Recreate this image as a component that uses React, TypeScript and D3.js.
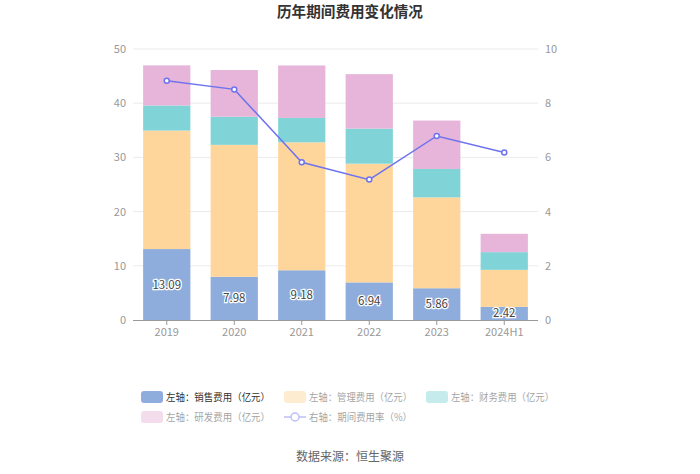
import React from "react";
import * as d3 from "d3";

const categories = ["2019", "2020", "2021", "2022", "2023", "2024H1"];
const sales = [13.09, 7.98, 9.18, 6.94, 5.86, 2.42];
const manage = [21.86, 24.33, 23.6, 21.9, 16.76, 6.83];
const finance = [4.63, 5.19, 4.5, 6.47, 5.25, 3.27];
const rd = [7.4, 8.62, 9.68, 10.05, 8.93, 3.38];
const rate = [8.83, 8.51, 5.82, 5.18, 6.79, 6.18];
const leftTicks = [0, 10, 20, 30, 40, 50];
const rightTicks = [0, 2, 4, 6, 8, 10];

const seriesNames = [
  "左轴：销售费用（亿元）",
  "左轴：管理费用（亿元）",
  "左轴：财务费用（亿元）",
  "左轴：研发费用（亿元）",
  "右轴：期间费用率（%）",
];
const colors = ["#8eaddc", "#fed69b", "#80d4d7", "#e6b5d9"];
const lineColor = "#6f73ee";
const font = "'Noto Sans CJK SC', 'Noto Sans', sans-serif";

export default function App() {
  const W = 700, H = 474;
  const left = 133, right = 538, top = 49, bottom = 320;
  const x = d3.scaleBand<string>().domain(categories).range([left, right]).paddingInner(0.3).paddingOuter(0.15);
  const xc = d3.scaleBand<string>().domain(categories).range([left, right]);
  const y = d3.scaleLinear().domain([0, 50]).range([bottom, top]);
  const y2 = d3.scaleLinear().domain([0, 10]).range([bottom, top]);

  const stackData = categories.map((c, i) => ({ c, s0: sales[i], s1: manage[i], s2: finance[i], s3: rd[i] }));
  const stack = d3.stack<any>().keys(["s0", "s1", "s2", "s3"])(stackData);

  const line = d3.line<number>()
    .x((_, i) => (xc(categories[i]) as number) + xc.bandwidth() / 2)
    .y((d) => y2(d));

  const legendItems = [
    { x: 141, y: 397, w: 104 }, { x: 284, y: 397, w: 103 }, { x: 426, y: 397, w: 103 },
    { x: 141, y: 417, w: 104 }, { x: 284, y: 417, w: 103 },
  ];

  return (
    <svg width={W} height={H} style={{ position: "absolute", left: 0, top: 0, background: "#fff" }} fontFamily={font}>
      <text x={350} y={17} textAnchor="middle" fontSize={14.6} fontWeight="bold" fill="#333">历年期间费用变化情况</text>
      {leftTicks.map((t) => (
        <g key={t}>
          {t > 0 && <line x1={left} x2={right} y1={y(t)} y2={y(t)} stroke="#ebebeb" strokeWidth={1} />}
          <text x={126} y={y(t) + 4} textAnchor="end" fontSize={11} fill="#999">{t}</text>
        </g>
      ))}
      {rightTicks.map((t) => (
        <text key={t} x={545} y={y2(t) + 4} textAnchor="start" fontSize={11} fill="#999">{t}</text>
      ))}
      {stack.map((layer, li) => (
        <g key={li} fill={colors[li]}>
          {layer.map((d, i) => (
            <rect key={i} x={x(categories[i])} width={x.bandwidth()} y={y(d[1])} height={y(d[0]) - y(d[1])} />
          ))}
        </g>
      ))}
      <line x1={left} x2={right} y1={bottom + 0.5} y2={bottom + 0.5} stroke="#999" />
      {categories.map((c) => {
        const cx = (xc(c) as number) + xc.bandwidth() / 2;
        return (
          <g key={c}>
            <line x1={cx} x2={cx} y1={bottom} y2={bottom + 5} stroke="#999" />
            <text x={cx} y={bottom + 16} textAnchor="middle" fontSize={11} fill="#999">{c}</text>
          </g>
        );
      })}
      {sales.map((v, i) => {
        const cx = (x(categories[i]) as number) + x.bandwidth() / 2;
        return (
          <text key={i} x={cx} y={(y(0) + y(v)) / 2 + 4} textAnchor="middle" fontSize={11.5}
            fill="#444" stroke="#fff" strokeWidth={2.5} paintOrder="stroke">{v.toFixed(2)}</text>
        );
      })}
      <path d={line(rate) || ""} fill="none" stroke={lineColor} strokeWidth={1.5} />
      {rate.map((v, i) => (
        <circle key={i} cx={(xc(categories[i]) as number) + xc.bandwidth() / 2} cy={y2(v)} r={2.5}
          fill="#fff" stroke={lineColor} strokeWidth={1.5} />
      ))}
      {seriesNames.map((n, i) => {
        const p = legendItems[i];
        const op = i === 0 ? 1 : 0.45;
        return (
          <g key={n} opacity={op}>
            {i < 4 ? (
              <rect x={p.x} y={p.y - 6} width={22} height={12} rx={3} fill={colors[i]} />
            ) : (
              <g>
                <line x1={p.x} x2={p.x + 22} y1={p.y} y2={p.y} stroke={lineColor} strokeWidth={1.5} />
                <circle cx={p.x + 11} cy={p.y} r={4} fill="#fff" stroke={lineColor} strokeWidth={1.5} />
              </g>
            )}
            <text x={p.x + 25} y={p.y + 4} fontSize={10} fill="#333" textLength={p.w} lengthAdjust="spacingAndGlyphs">{n}</text>
          </g>
        );
      })}
      <text x={350} y={461} textAnchor="middle" fontSize={12} fill="#666">数据来源：恒生聚源</text>
    </svg>
  );
}
